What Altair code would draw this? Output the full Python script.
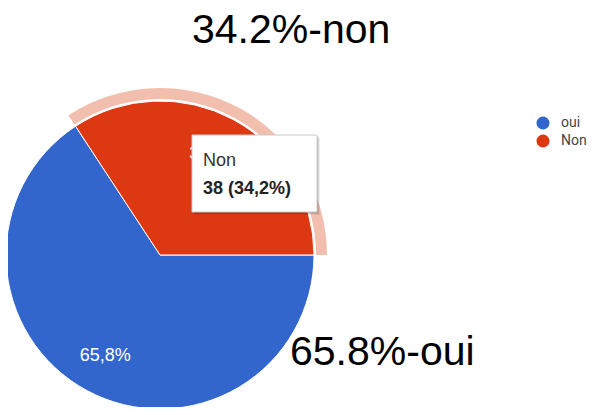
import math
import altair as alt
import pandas as pd

categories = ["oui", "Non"]
counts = [73, 38]
pct_labels = ["65,8%", "34,2%"]
colors = ["#3366cc", "#dc3912"]
tooltip_lines = ["Non", "38 (34,2%)"]
annotations = ["34.2%-non", "65.8%-oui"]

df = pd.DataFrame({"cat": categories, "count": counts, "label": pct_labels, "idx": [0, 1]})
one = pd.DataFrame({"a": [0]})

CX, CY = 152, 247
R = 154
start = math.pi / 2

theta = alt.Theta("count:Q", stack=True,
                  scale=alt.Scale(range=[start, start + 2 * math.pi]))
base = alt.Chart(df).encode(theta=theta, order=alt.Order("idx:Q"),
                            x=alt.value(CX), y=alt.value(CY))

ring = base.mark_arc(radius=167, radius2=156).encode(
    fill=alt.condition(alt.datum.cat == "Non", alt.value("#f2bfae"), alt.value("transparent"))
)

pie = base.mark_arc(radius=R, stroke="white", strokeWidth=1).encode(
    color=alt.Color("cat:N", scale=alt.Scale(domain=categories, range=colors),
                    legend=alt.Legend(title=None, orient="none", legendX=528, legendY=108,
                                      symbolType="circle", symbolSize=170, symbolStrokeWidth=0,
                                      labelFont="Roboto", labelFontSize=14, labelColor="#444",
                                      rowPadding=4, padding=0, labelOffset=11))
)

labels = base.mark_text(radius=115, fontSize=18, font="Liberation Sans", color="white").encode(
    text="label:N"
)

shadows = []
for off, op in [(3, 0.06), (2, 0.1), (1, 0.14)]:
    shadows.append(alt.Chart(one).mark_rect(color="black", opacity=op).encode(
        x=alt.value(184 + off), x2=alt.value(309 + off),
        y=alt.value(127 + off), y2=alt.value(204 + off)))

box = alt.Chart(one).mark_rect(fill="white", stroke="#cccccc", strokeWidth=1).encode(
    x=alt.value(184), x2=alt.value(309), y=alt.value(127), y2=alt.value(204))

tip_df = pd.DataFrame({"t": tooltip_lines})
tip1 = alt.Chart(tip_df).transform_filter(alt.datum.t == tooltip_lines[0]).mark_text(
    align="left", baseline="alphabetic", fontSize=18, font="Liberation Sans", color="#333"
).encode(text="t:N", x=alt.value(195), y=alt.value(158))
tip2 = alt.Chart(tip_df).transform_filter(alt.datum.t == tooltip_lines[1]).mark_text(
    align="left", baseline="alphabetic", fontSize=18, font="Liberation Sans",
    fontWeight="bold", color="#222"
).encode(text="t:N", x=alt.value(195), y=alt.value(186))

ann_df = pd.DataFrame({"t": annotations})
ann1 = alt.Chart(ann_df).transform_filter(alt.datum.t == annotations[0]).mark_text(
    align="left", baseline="alphabetic", fontSize=41, font="Liberation Sans", color="black"
).encode(text="t:N", x=alt.value(184), y=alt.value(35))
ann2 = alt.Chart(ann_df).transform_filter(alt.datum.t == annotations[1]).mark_text(
    align="left", baseline="alphabetic", fontSize=41, font="Liberation Sans", color="black"
).encode(text="t:N", x=alt.value(282), y=alt.value(357))

chart = alt.layer(ring, pie, labels, *shadows, box, tip1, tip2, ann1, ann2).properties(
    width=586, height=399, padding=0, autosize="none"
).configure_view(stroke=None)

chart.save("out.html", embed_options={"renderer": "svg", "actions": False})
